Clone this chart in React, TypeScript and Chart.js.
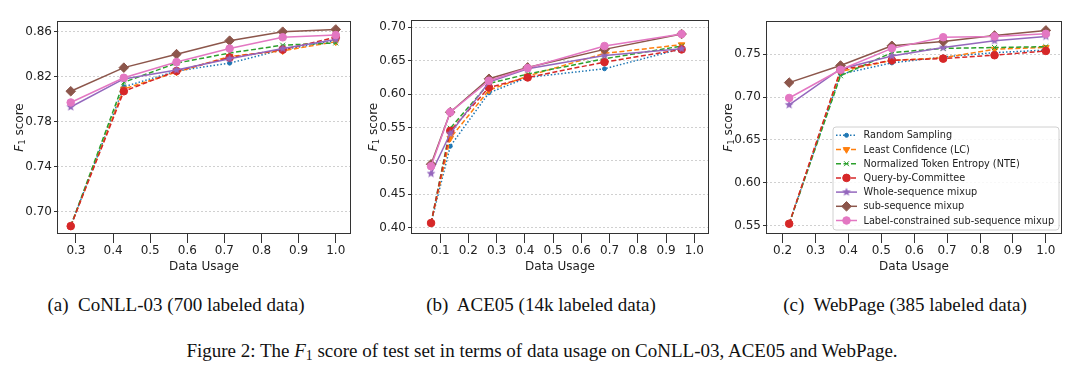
import React, { useEffect, useRef } from 'react';
import { Chart, registerables } from 'chart.js';
import { drawPoint } from 'chart.js/helpers';

Chart.register(...registerables);

// ---------------- data ----------------
const SERIES_NAMES = [
  'Random Sampling',
  'Least Confidence (LC)',
  'Normalized Token Entropy (NTE)',
  'Query-by-Committee',
  'Whole-sequence mixup',
  'sub-sequence mixup',
  'Label-constrained sub-sequence mixup',
];

const CONLL_X = [0.286, 0.429, 0.571, 0.714, 0.857, 1.0];
const CONLL_RS = [0.687, 0.811, 0.825, 0.832, 0.844, 0.852];
const CONLL_LC = [0.687, 0.809, 0.824, 0.838, 0.843, 0.851];
const CONLL_NTE = [0.687, 0.815, 0.832, 0.841, 0.848, 0.85];
const CONLL_QBC = [0.687, 0.807, 0.825, 0.837, 0.844, 0.855];
const CONLL_WHOLE = [0.793, 0.818, 0.826, 0.836, 0.845, 0.853];
const CONLL_SUB = [0.807, 0.828, 0.84, 0.852, 0.86, 0.862];
const CONLL_LCS = [0.797, 0.819, 0.833, 0.845, 0.855, 0.857];
const CONLL_XTICKS = [0.3, 0.4, 0.5, 0.6, 0.7, 0.8, 0.9, 1.0];
const CONLL_YTICKS = [0.7, 0.74, 0.78, 0.82, 0.86];

const ACE_X = [0.068, 0.136, 0.273, 0.41, 0.682, 0.955];
const ACE_RS = [0.407, 0.522, 0.602, 0.625, 0.638, 0.668];
const ACE_LC = [0.407, 0.534, 0.606, 0.627, 0.661, 0.674];
const ACE_NTE = [0.407, 0.549, 0.616, 0.63, 0.653, 0.672];
const ACE_QBC = [0.407, 0.545, 0.61, 0.625, 0.648, 0.667];
const ACE_WHOLE = [0.481, 0.541, 0.618, 0.638, 0.658, 0.668];
const ACE_SUB = [0.495, 0.573, 0.623, 0.64, 0.667, 0.69];
const ACE_LCS = [0.492, 0.573, 0.62, 0.639, 0.672, 0.69];
const ACE_XTICKS = [0.1, 0.2, 0.3, 0.4, 0.5, 0.6, 0.7, 0.8, 0.9, 1.0];
const ACE_YTICKS = [0.4, 0.45, 0.5, 0.55, 0.6, 0.65, 0.7];

const WEB_X = [0.22, 0.376, 0.532, 0.688, 0.844, 1.0];
const WEB_RS = [0.552, 0.727, 0.74, 0.747, 0.752, 0.755];
const WEB_LC = [0.552, 0.73, 0.743, 0.746, 0.756, 0.758];
const WEB_NTE = [0.552, 0.725, 0.752, 0.757, 0.758, 0.759];
const WEB_QBC = [0.552, 0.732, 0.743, 0.745, 0.749, 0.754];
const WEB_WHOLE = [0.691, 0.733, 0.748, 0.758, 0.766, 0.771];
const WEB_SUB = [0.717, 0.737, 0.76, 0.765, 0.772, 0.778];
const WEB_LCS = [0.699, 0.732, 0.757, 0.77, 0.771, 0.774];
const WEB_XTICKS = [0.2, 0.3, 0.4, 0.5, 0.6, 0.7, 0.8, 0.9, 1.0];
const WEB_YTICKS = [0.55, 0.6, 0.65, 0.7, 0.75];

const X_TITLE = 'Data Usage';
const SUBCAPTIONS = [
  '(a)\u00a0 CoNLL-03 (700 labeled data)',
  '(b)\u00a0 ACE05 (14k labeled data)',
  '(c)\u00a0 WebPage (385 labeled data)',
];

// ---------------- styles ----------------
const COLORS = ['#1f77b4', '#ff7f0e', '#2ca02c', '#d62728', '#9467bd', '#8c564b', '#e377c2'];
const DASHES = [[1.5, 2], [5, 2.5], [5, 2.5], [5, 2.5], [], [], []];
const RADII = [2, 3.8, 3.5, 3.8, 4, 4.8, 3.8];
const FONT = 'DejaVu Sans';

function makeStar(color: string, r: number) {
  const c = document.createElement('canvas');
  const s = Math.ceil(r * 2 + 2);
  c.width = s;
  c.height = s;
  const g = c.getContext('2d')!;
  g.fillStyle = color;
  g.beginPath();
  for (let i = 0; i < 10; i++) {
    const rr = i % 2 === 0 ? r : r * 0.45;
    const a = -Math.PI / 2 + (i * Math.PI) / 5;
    const px = s / 2 + rr * Math.cos(a);
    const py = s / 2 + rr * Math.sin(a);
    if (i === 0) g.moveTo(px, py);
    else g.lineTo(px, py);
  }
  g.closePath();
  g.fill();
  return c;
}

function pointStyles(): any[] {
  return ['circle', 'triangle', 'crossRot', 'circle', makeStar(COLORS[4], 4.6), 'rectRot', 'circle'];
}
const ROTATIONS = [0, 180, 0, 0, 0, 0, 0];

const decoPlugin = {
  id: 'panelDeco',
  afterDraw(chart: any, _args: any, opts: any) {
    const { ctx, chartArea: a } = chart;
    ctx.save();
    ctx.strokeStyle = '#333';
    ctx.lineWidth = 1;
    ctx.setLineDash([]);
    ctx.strokeRect(Math.round(a.left) + 0.5, Math.round(a.top) + 0.5, Math.round(a.right - a.left) - 1, Math.round(a.bottom - a.top) - 1);

    // y title: F_1 score
    ctx.translate(opts.titleX, (a.top + a.bottom) / 2);
    ctx.rotate(-Math.PI / 2);
    ctx.fillStyle = '#222';
    ctx.textBaseline = 'middle';
    ctx.textAlign = 'left';
    const fItal = `italic 12px "${FONT}"`;
    const fSub = `8.5px "${FONT}"`;
    const fNorm = `12px "${FONT}"`;
    ctx.font = fItal;
    const wF = ctx.measureText('F').width;
    ctx.font = fSub;
    const w1 = ctx.measureText('1').width;
    ctx.font = fNorm;
    const wS = ctx.measureText(' score').width;
    let x = -(wF + w1 + wS) / 2;
    ctx.font = fItal;
    ctx.fillText('F', x, 0);
    x += wF;
    ctx.font = fSub;
    ctx.fillText('1', x, 3);
    x += w1;
    ctx.font = fNorm;
    ctx.fillText(' score', x, 0);
    ctx.restore();

    if (opts.legend) {
      const L = opts.legend;
      const styles = opts.pstyles;
      ctx.save();
      ctx.beginPath();
      ctx.roundRect(L.x + 0.5, L.y + 0.5, L.w, L.h, 3);
      ctx.fillStyle = 'rgba(255,255,255,0.85)';
      ctx.fill();
      ctx.strokeStyle = '#d0d0d0';
      ctx.lineWidth = 1;
      ctx.stroke();
      SERIES_NAMES.forEach((name, i) => {
        const y = L.row0 + i * L.step;
        ctx.strokeStyle = COLORS[i];
        ctx.fillStyle = COLORS[i];
        ctx.lineWidth = 1.5;
        ctx.setLineDash(DASHES[i]);
        ctx.beginPath();
        ctx.moveTo(L.lx0, y);
        ctx.lineTo(L.lx1, y);
        ctx.stroke();
        ctx.setLineDash([]);
        ctx.lineWidth = 1;
        drawPoint(ctx, { pointStyle: styles[i], rotation: ROTATIONS[i], radius: RADII[i], borderWidth: 1 } as any, (L.lx0 + L.lx1) / 2, y);
        ctx.fillStyle = '#222';
        ctx.font = `9.7px "${FONT}"`;
        ctx.textBaseline = 'middle';
        ctx.textAlign = 'left';
        ctx.fillText(name, L.tx, y + 0.5);
      });
      ctx.restore();
    }
  },
};

type PanelProps = {
  left: number;
  xs: number[];
  series: number[][];
  xmin: number;
  xmax: number;
  ymin: number;
  ymax: number;
  xticks: number[];
  yticks: number[];
  area: { left: number; top: number; right: number; bottom: number };
  titleX: number;
  legend?: any;
};

const CW = 360;
const CH = 290;

function Panel(p: PanelProps) {
  const ref = useRef<HTMLCanvasElement>(null);
  useEffect(() => {
    const styles = pointStyles();
    const datasets = p.series.map((ys, i) => ({
      label: SERIES_NAMES[i],
      data: p.xs.map((x, j) => ({ x, y: ys[j] })),
      borderColor: COLORS[i],
      backgroundColor: COLORS[i],
      borderWidth: 1.5,
      borderDash: DASHES[i],
      pointStyle: styles[i],
      pointRotation: ROTATIONS[i],
      pointRadius: RADII[i],
      pointBorderWidth: 1,
      pointBackgroundColor: COLORS[i],
      pointBorderColor: COLORS[i],
      tension: 0,
      order: 6 - i,
    }));
    const chart = new Chart(ref.current!, {
      type: 'line',
      data: { datasets },
      plugins: [decoPlugin],
      options: {
        animation: false,
        responsive: false,
        events: [],
        layout: { padding: { top: p.area.top, right: CW - p.area.right, left: 0, bottom: 0 } },
        plugins: {
          legend: { display: false },
          tooltip: { enabled: false },
          panelDeco: { titleX: p.titleX, legend: p.legend, pstyles: styles },
        } as any,
        scales: {
          x: {
            type: 'linear',
            min: p.xmin,
            max: p.xmax,
            afterBuildTicks: (s: any) => {
              s.ticks = p.xticks.map((v) => ({ value: v }));
            },
            afterFit: (s: any) => {
              s.height = CH - p.area.bottom;
            },
            ticks: {
              font: { family: FONT, size: 12 },
              color: '#222',
              padding: 1,
              maxRotation: 0,
              autoSkip: false,
              callback: (v: any) => Number(v).toFixed(1),
            },
            grid: { drawOnChartArea: false, drawTicks: true, tickLength: 9, tickColor: '#333', tickWidth: 1 },
            border: { display: false },
            title: {
              display: true,
              text: X_TITLE,
              font: { family: FONT, size: 12 },
              color: '#222',
              padding: { top: 0, bottom: 16 },
            },
          },
          y: {
            type: 'linear',
            min: p.ymin,
            max: p.ymax,
            afterBuildTicks: (s: any) => {
              s.ticks = p.yticks.map((v) => ({ value: v }));
            },
            afterFit: (s: any) => {
              s.width = p.area.left;
            },
            ticks: {
              font: { family: FONT, size: 12 },
              color: '#222',
              padding: 2,
              autoSkip: false,
              callback: (v: any) => Number(v).toFixed(2),
            },
            grid: { drawOnChartArea: true, color: '#c4c4c4', lineWidth: 0.8, drawTicks: true, tickLength: 3, tickColor: '#333', tickWidth: 1 },
            border: { display: false, dash: [2, 2] },
          },
        },
      } as any,
    });
    return () => chart.destroy();
  }, []);
  return (
    <canvas
      ref={ref}
      width={CW}
      height={CH}
      style={{ position: 'absolute', left: p.left, top: 0, width: CW, height: CH }}
    />
  );
}

const capStyle: React.CSSProperties = {
  position: 'absolute',
  font: '19px "Liberation Serif"',
  lineHeight: '19px',
  whiteSpace: 'nowrap',
  textAlign: 'center',
  color: '#111',
};

export default function App() {
  return (
    <div style={{ position: 'absolute', left: 0, top: 0, width: 1080, height: 371, background: '#fff', overflow: 'hidden' }}>
      <Panel
        left={0}
        xs={CONLL_X}
        series={[CONLL_RS, CONLL_LC, CONLL_NTE, CONLL_QBC, CONLL_WHOLE, CONLL_SUB, CONLL_LCS]}
        xmin={0.249}
        xmax={1.041}
        ymin={0.68}
        ymax={0.8695}
        xticks={CONLL_XTICKS}
        yticks={CONLL_YTICKS}
        area={{ left: 57, top: 21, right: 351, bottom: 234 }}
        titleX={19.5}
      />
      <Panel
        left={360}
        xs={ACE_X}
        series={[ACE_RS, ACE_LC, ACE_NTE, ACE_QBC, ACE_WHOLE, ACE_SUB, ACE_LCS]}
        xmin={-0.003}
        xmax={1.052}
        ymin={0.3906}
        ymax={0.711}
        xticks={ACE_XTICKS}
        yticks={ACE_YTICKS}
        area={{ left: 51, top: 20, right: 349, bottom: 234 }}
        titleX={14}
      />
      <Panel
        left={720}
        xs={WEB_X}
        series={[WEB_RS, WEB_LC, WEB_NTE, WEB_QBC, WEB_WHOLE, WEB_SUB, WEB_LCS]}
        xmin={0.1496}
        xmax={1.049}
        ymin={0.54}
        ymax={0.789}
        xticks={WEB_XTICKS}
        yticks={WEB_YTICKS}
        area={{ left: 46, top: 21, right: 342, bottom: 234 }}
        titleX={8.7}
        legend={{ x: 112.5, y: 126.5, w: 226, h: 103, row0: 135.3, step: 14.2, lx0: 116, lx1: 137, tx: 143.5 }}
      />
      <div style={{ ...capStyle, left: 176 - 200, width: 400, top: 295 }}>{SUBCAPTIONS[0]}</div>
      <div style={{ ...capStyle, left: 541 - 200, width: 400, top: 295 }}>{SUBCAPTIONS[1]}</div>
      <div style={{ ...capStyle, left: 905 - 200, width: 400, top: 295 }}>{SUBCAPTIONS[2]}</div>
      <div style={{ ...capStyle, left: 542 - 500, width: 1000, top: 341 }}>
        Figure 2: The <i>F</i>
        <span style={{ fontSize: '0.72em', position: 'relative', top: '0.25em' }}>1</span> score of test set in terms
        of data usage on CoNLL-03, ACE05 and WebPage.
      </div>
    </div>
  );
}
